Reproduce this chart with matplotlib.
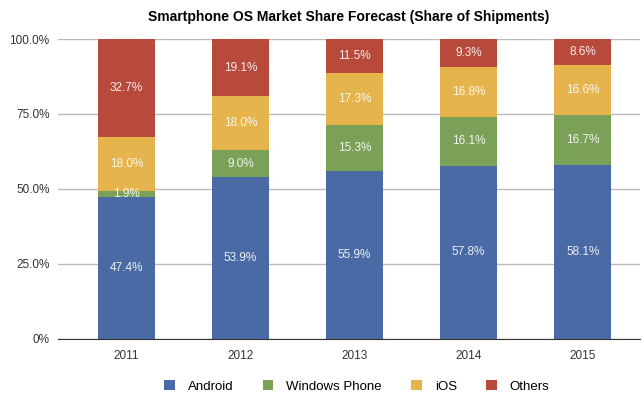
import numpy as np
import matplotlib.pyplot as plt

plt.rcParams['font.family'] = ['Liberation Sans', 'DejaVu Sans']

years = ['2011', '2012', '2013', '2014', '2015']
android = [47.4, 53.9, 55.9, 57.8, 58.1]
windows = [1.9, 9.0, 15.3, 16.1, 16.7]
ios = [18.0, 18.0, 17.3, 16.8, 16.6]
others = [32.7, 19.1, 11.5, 9.3, 8.6]

series = [('Android', android, '#4a6aa5'),
          ('Windows Phone', windows, '#7aa157'),
          ('iOS', ios, '#e6b44c'),
          ('Others', others, '#b84a3c')]

fig = plt.figure(figsize=(6.43, 3.94), dpi=100)
ax = fig.add_axes([0.09, 0.14, 0.905, 0.761])

x = np.arange(len(years))
bottom = np.zeros(len(years))
for name, vals, color in series:
    vals = np.array(vals)
    ax.bar(x, vals, 0.5, bottom=bottom, color=color, label=name, zorder=2)
    for xi, b, v in zip(x, bottom, vals):
        ax.text(xi, b + v / 2, f'{v:.1f}%', ha='center', va='center',
                color='white', fontsize=8.5, alpha=0.9, zorder=3)
    bottom += vals

ax.set_xlim(-0.6, 4.5)
ax.set_ylim(0, 100)
ax.set_yticks([0, 25, 50, 75, 100])
ax.set_yticklabels(['0%', '25.0%', '50.0%', '75.0%', '100.0%'])
ax.set_xticks(x)
ax.set_xticklabels(years)
ax.tick_params(length=0, labelsize=8.5, colors='#333333')
ax.tick_params(axis='y', pad=6)
ax.tick_params(axis='x', pad=8)
ax.grid(axis='y', color='#bbbbbb', linewidth=1, zorder=0)
for s in ['top', 'right', 'left']:
    ax.spines[s].set_visible(False)
ax.spines['bottom'].set_color('#333333')

ax.set_title('Smartphone OS Market Share Forecast (Share of Shipments)',
             fontsize=10, fontweight='bold', pad=13)

fig.legend(loc='lower center', bbox_to_anchor=(0.555, -0.027), ncol=4,
           frameon=False, fontsize=9.5, handlelength=0.8, handleheight=0.8,
           columnspacing=2.2, handletextpad=1.0)

plt.savefig('out.png')
